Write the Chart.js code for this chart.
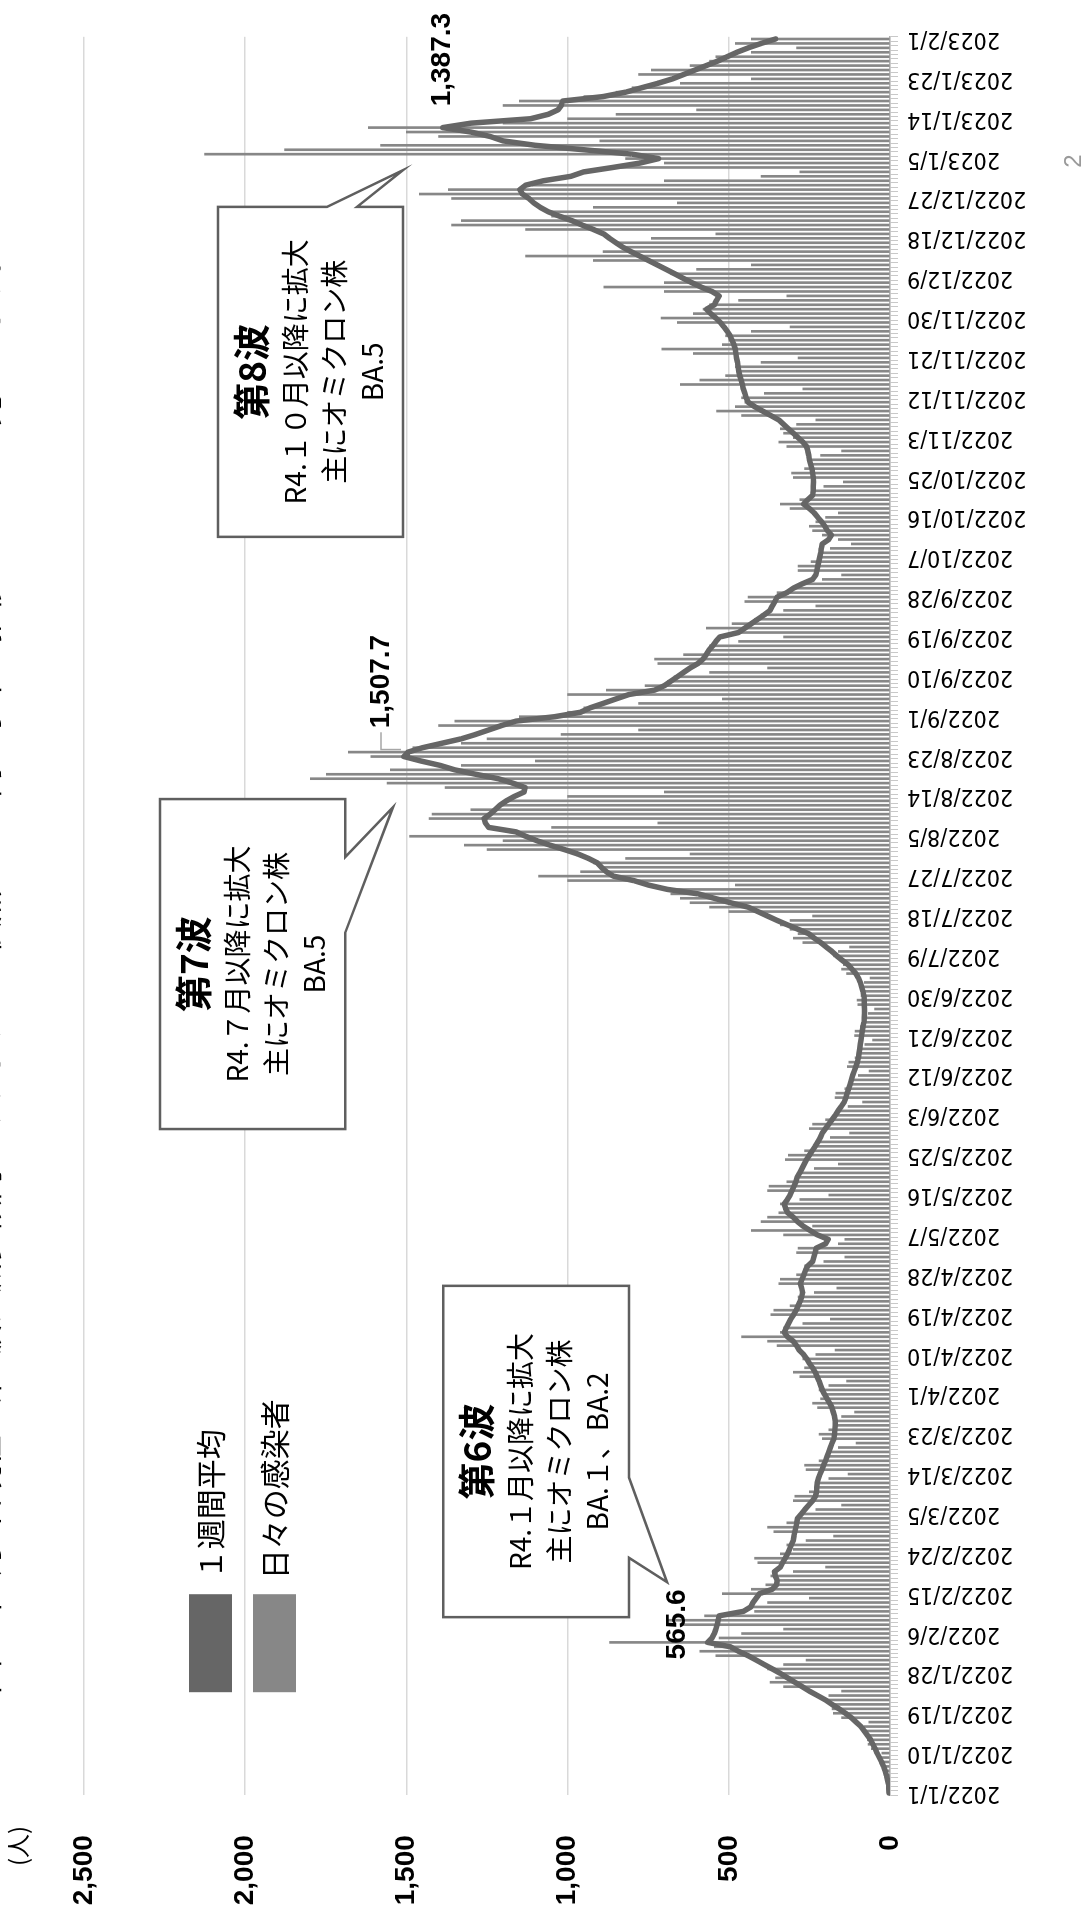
<!DOCTYPE html>
<html lang="ja"><head><meta charset="utf-8">
<script src="https://cdn.jsdelivr.net/npm/chart.js@4.4.0/dist/chart.umd.min.js"></script>
<style>
html,body{margin:0;padding:0;overflow:hidden;background:#fff;}
#wrap{position:absolute;left:0;top:0;width:1910px;height:1132px;transform-origin:0 0;transform:translate(-40px,1910px) rotate(-90deg);}
#c{display:block;}
</style></head>
<body>
<div id="wrap"><canvas id="c" width="1910" height="1132"></canvas></div>
<script>
// ---- data ----
const TITLE = '令和5年2月1日現在、第8波は減少傾向にありますが、依然として高い水準で推移していると見られます。';
const UNIT = '(人)';
const PAGE_NO = '2';
const SERIES_NAMES = ['１週間平均', '日々の感染者'];

const TICK_LABELS = ['2022/1/1','2022/1/10','2022/1/19','2022/1/28','2022/2/6','2022/2/15','2022/2/24','2022/3/5','2022/3/14','2022/3/23','2022/4/1','2022/4/10','2022/4/19','2022/4/28','2022/5/7','2022/5/16','2022/5/25','2022/6/3','2022/6/12','2022/6/21','2022/6/30','2022/7/9','2022/7/18','2022/7/27','2022/8/5','2022/8/14','2022/8/23','2022/9/1','2022/9/10','2022/9/19','2022/9/28','2022/10/7','2022/10/16','2022/10/25','2022/11/3','2022/11/12','2022/11/21','2022/11/30','2022/12/9','2022/12/18','2022/12/27','2023/1/5','2023/1/14','2023/1/23','2023/2/1'];

// one category per day, 2022/1/1 .. 2023/2/1
const CATEGORIES = [];
for (let d = new Date(2022, 0, 1); d <= new Date(2023, 1, 1); d.setDate(d.getDate() + 1)) {
  CATEGORIES.push(d.getFullYear() + '/' + (d.getMonth() + 1) + '/' + d.getDate());
}

const WEEKLY_AVG = [
3,4,5,8,11,15,20,26,33,40,
46,53,60,70,80,90,105,120,138,158,
180,200,225,250,272,295,318,340,365,390,
415,440,470,495,565.6,552,545,540,536,533,
530,455,432,425,415,405,365,352,350,356,
358,340,333,325,318,312,306,300,298,295,
292,289,287,275,264,252,240,231,228,227,
226,222,217,211,206,200,195,190,185,180,
174,172,171,170,170,172,176,180,187,195,
203,210,215,220,226,232,240,250,258,268,
282,290,300,318,328,322,315,308,299,291,
285,279,274,271,274,278,273,267,262,255,
240,236,232,229,200,192,225,248,270,287,
300,317,324,328,318,310,304,298,292,288,
280,273,266,259,250,241,232,224,216,210,
200,190,180,170,161,151,142,137,133,128,
124,120,116,111,106,101,98,96,94,92,
90,88,86,84,81,80,79,79,80,80,
81,84,88,92,98,106,118,130,148,165,
180,198,215,235,252,285,318,350,380,410,
440,495,545,595,690,750,795,858,880,895,
908,935,968,1010,1055,1095,1130,1160,1245,1255,
1259,1240,1225,1210,1190,1165,1135,1132,1170,1215,
1285,1350,1395,1455,1507.7,1495,1450,1390,1330,1285,
1245,1205,1160,1040,960,930,890,850,810,730,
700,680,660,640,620,596,580,570,562,550,
540,528,470,450,430,410,390,372,365,357,
350,320,300,272,240,230,227,224,221,218,
215,213,210,190,182,194,202,212,224,235,
250,268,255,240,238,238,237,238,240,242,
246,250,252,255,259,270,285,300,315,330,
345,370,395,420,440,446,450,455,458,462,
466,469,471,473,476,478,480,484,490,496,
505,515,526,540,556,569,545,538,530,552,
586,615,642,668,695,722,749,776,803,829,
850,870,888,920,955,987,1025,1060,1085,1105,
1120,1140,1148,1130,1075,990,950,860,775,718,
800,950,1100,1200,1240,1300,1387.3,1300,1115,1060,
1030,1020,1015,890,820,770,720,675,640,605,
570,535,505,475,440,400,355];

const DAILY_CASES = [
2,3,2,9,14,18,22,27,30,25,
58,68,70,72,84,80,66,150,176,180,
185,205,190,150,330,372,355,338,380,330,
260,540,590,545,870,530,460,330,640,690,
575,420,430,380,250,520,430,385,340,370,
300,200,410,420,340,300,320,260,175,360,
380,320,285,280,230,150,300,295,250,225,
230,190,130,260,265,220,195,195,160,105,
210,220,190,172,175,150,110,225,240,215,
205,220,190,135,280,300,265,250,270,230,
170,350,380,460,340,330,270,185,370,360,
310,280,285,235,165,345,340,290,260,265,
205,140,290,285,160,140,330,430,240,400,
380,345,330,340,280,190,380,375,320,290,
285,235,160,325,315,265,235,230,185,125,
250,240,200,170,165,130,85,170,168,140,
125,122,98,65,132,128,108,96,96,78,
54,110,108,92,82,82,67,48,100,102,
90,86,92,80,62,135,150,145,155,175,
160,125,270,300,285,310,340,310,240,500,
560,620,650,680,700,480,1000,1090,960,900,
920,820,620,1250,1320,1200,1490,1180,1050,720,
1430,1420,1300,1200,1180,1000,700,1380,1560,1798,
1748,1550,1330,1100,1610,1680,1480,1330,1250,1020,
780,1400,1350,1150,1000,950,780,520,1000,880,
760,690,670,560,380,720,730,640,560,560,
470,330,480,570,490,420,400,330,230,450,
440,350,300,270,210,150,285,285,245,220,
220,185,120,160,210,240,250,230,200,160,
310,340,280,240,240,205,145,300,305,265,
250,255,215,150,320,345,300,330,340,290,
230,460,538,480,450,460,390,270,650,590,
510,470,480,400,285,610,708,520,500,510,
430,310,660,710,610,580,560,470,320,700,
888,700,650,680,600,430,920,1130,890,820,
850,740,540,1130,1360,1330,1050,1060,920,660,
1360,1460,1370,1110,700,400,280,860,700,820,
2126,1878,1580,900,1400,1500,1618,1200,1000,850,
600,1200,1150,950,850,800,650,430,780,740,
620,560,540,430,290,480,430];

const Y_TICKS = [0, 500, 1000, 1500, 2000, 2500];

// peak labels: which point of the weekly average is labelled
const PEAK_INDEXES = [34, 234, 376];

// callout boxes, in data units (category index / value)
const CALLOUT_TEXT = [
  ['第6波', 'R4.１月以降に拡大', '主にオミクロン株', 'BA.１、BA.2'],
  ['第7波', 'R4.７月以降に拡大', '主にオミクロン株', 'BA.5'],
  ['第8波', 'R4.１０月以降に拡大', '主にオミクロン株', 'BA.5']
];
const CALLOUT_BOX = [
  {x0: 39.7, x1: 114.5, y0: 809.5, y1: 1386, side: 'bottom', b0: 53.1, b1: 71.2, tipX: 47.6, tipY: 691.7},
  {x0: 149.9, x1: 224.4, y0: 1690, y1: 2264, side: 'bottom', b0: 194.2, b1: 211.3, tipX: 222.6, tipY: 1541.5},
  {x0: 283.6, x1: 358.1, y0: 1510.5, y1: 2084.3, side: 'right', b0: 1746.3, b1: 1653.2, tipX: 366.4, tipY: 1510.5}
];

// ---- drawing ----
const PEAK_OFFSETS = [[18, -30], [75, -23], [68, 0]];
const TEXT_ROWS = [34, 77, 116, 154];

const overlay = {
  id: 'overlay',
  afterLayout(chart) {
    const lg = chart.legend, ca = chart.chartArea;
    if (lg) { lg.left = ca.left + 82; lg.top = ca.top + 84; }
  },
  afterDatasetsDraw(chart) {
    const ctx = chart.ctx, xs = chart.scales.x, ys = chart.scales.y;
    CALLOUT_BOX.forEach((c, k) => {
      const L = xs.getPixelForValue(c.x0), R = xs.getPixelForValue(c.x1);
      const T = ys.getPixelForValue(c.y1), B = ys.getPixelForValue(c.y0);
      const tx = xs.getPixelForValue(c.tipX), ty = ys.getPixelForValue(c.tipY);
      ctx.save();
      ctx.beginPath();
      ctx.moveTo(L, T); ctx.lineTo(R, T);
      if (c.side === 'right') {
        ctx.lineTo(R, ys.getPixelForValue(c.b0)); ctx.lineTo(tx, ty); ctx.lineTo(R, ys.getPixelForValue(c.b1));
      }
      ctx.lineTo(R, B);
      if (c.side === 'bottom') {
        ctx.lineTo(xs.getPixelForValue(c.b1), B); ctx.lineTo(tx, ty); ctx.lineTo(xs.getPixelForValue(c.b0), B);
      }
      ctx.lineTo(L, B); ctx.closePath();
      ctx.fillStyle = '#ffffff'; ctx.fill();
      ctx.lineWidth = 2.5; ctx.strokeStyle = '#5f5f5f'; ctx.lineJoin = 'miter'; ctx.stroke();
      ctx.fillStyle = '#000'; ctx.textAlign = 'center'; ctx.textBaseline = 'middle';
      const cx = (L + R) / 2;
      CALLOUT_TEXT[k].forEach((t, r) => {
        ctx.font = (r === 0 ? 'bold 37px' : '28px') + ' "Noto Sans CJK JP", sans-serif';
        ctx.fillText(t, cx, T + TEXT_ROWS[r]);
      });
      ctx.restore();
    });
    const meta = chart.getDatasetMeta(0);
    ctx.save();
    ctx.font = 'bold 28px "Liberation Sans", sans-serif';
    ctx.fillStyle = '#000'; ctx.textAlign = 'center'; ctx.textBaseline = 'middle';
    PEAK_INDEXES.forEach((idx, k) => {
      const p = meta.data[idx];
      const txt = WEEKLY_AVG[idx].toLocaleString('en-US', {minimumFractionDigits: 1, maximumFractionDigits: 1});
      const lx = p.x + PEAK_OFFSETS[k][0], ly = p.y + PEAK_OFFSETS[k][1];
      ctx.fillText(txt, lx, ly);
      if (k === 1) {
        const w = ctx.measureText(txt).width;
        ctx.save();
        ctx.strokeStyle = '#a6a6a6'; ctx.lineWidth = 1.5;
        ctx.beginPath();
        ctx.moveTo(lx - w / 2 - 4, ly); ctx.lineTo(p.x + 7, ly); ctx.lineTo(p.x + 7, p.y - 3);
        ctx.stroke();
        ctx.restore();
      }
    });
    ctx.restore();
  },
  afterDraw(chart) {
    const ctx = chart.ctx;
    ctx.save();
    ctx.fillStyle = '#000'; ctx.textAlign = 'center'; ctx.textBaseline = 'middle';
    ctx.font = '24px "Noto Sans CJK JP", sans-serif';
    ctx.fillText(UNIT, 64, 58);
    ctx.fillStyle = '#9a9a9a';
    ctx.font = '24px "Liberation Sans", sans-serif';
    ctx.fillText(PAGE_NO, 1749, 1114);
    ctx.restore();
  }
};

Chart.defaults.font.family = '"DejaVu Sans", sans-serif';

new Chart(document.getElementById('c'), {
  type: 'bar',
  data: {
    labels: CATEGORIES,
    datasets: [
      {
        type: 'line', label: SERIES_NAMES[0], data: WEEKLY_AVG,
        borderColor: '#666666', backgroundColor: '#666666', borderWidth: 5.5,
        pointRadius: 0, tension: 0, borderJoinStyle: 'round', borderCapStyle: 'round', order: 0
      },
      {
        type: 'bar', label: SERIES_NAMES[1], data: DAILY_CASES,
        backgroundColor: '#878787', borderWidth: 0, barThickness: 2, order: 1
      }
    ]
  },
  options: {
    responsive: false, animation: false, devicePixelRatio: 1,
    layout: {padding: {left: 0, right: 36.8, top: 0, bottom: 0}},
    plugins: {
      tooltip: {enabled: false},
      title: {
        display: true, text: TITLE, color: '#000',
        font: {family: '"Noto Sans CJK JP", sans-serif', size: 31, weight: 'normal'},
        padding: {top: 8, bottom: 78.8}
      },
      legend: {
        position: 'chartArea', align: 'start',
        labels: {
          boxWidth: 98, boxHeight: 43, padding: 21, color: '#000',
          font: {family: '"Noto Sans CJK JP", sans-serif', size: 30},
          generateLabels(chart) {
            const items = Chart.defaults.plugins.legend.labels.generateLabels(chart);
            items.forEach(it => { it.lineWidth = 0; });
            return items;
          }
        }
      }
    },
    scales: {
      x: {
        offset: true,
        grid: {offset: true, drawOnChartArea: false, drawTicks: true, tickLength: 8, color: '#c8c8c8', lineWidth: 1},
        border: {display: true, color: '#b0b0b0', width: 1.5},
        ticks: {
          autoSkip: false, minRotation: 90, maxRotation: 90, padding: 9, color: '#000',
          font: {family: '"Liberation Sans Narrow", "DejaVu Sans Condensed", "DejaVu Sans", sans-serif', size: 23},
          callback(v, i) { const l = CATEGORIES[i]; return TICK_LABELS.includes(l) ? l : ''; }
        },
        afterFit(s) { s.height = 202; }
      },
      y: {
        min: Y_TICKS[0], max: Y_TICKS[Y_TICKS.length - 1],
        afterBuildTicks(s) { s.ticks = Y_TICKS.map(v => ({value: v})); },
        grid: {color: '#d9d9d9', lineWidth: 1.5, drawTicks: false},
        border: {display: false},
        ticks: {
          padding: 40, color: '#000',
          font: {family: '"Liberation Sans", sans-serif', size: 28, weight: 'bold'},
          callback(v) { return v.toLocaleString('en-US'); }
        },
        afterFit(s) { s.width = 114.8; }
      }
    }
  },
  plugins: [overlay]
});
</script>
</body></html>
